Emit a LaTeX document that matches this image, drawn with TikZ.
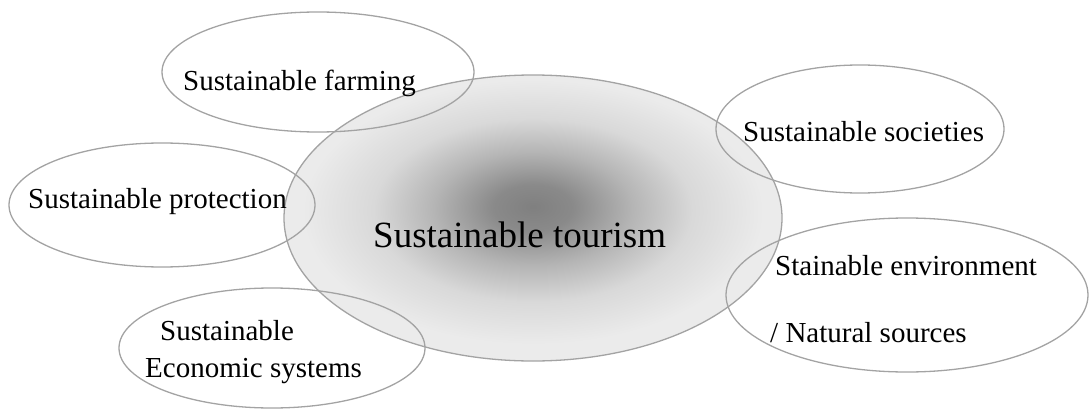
\documentclass[tikz,border=0pt]{standalone}
\usepackage{fontspec}
\setmainfont{Liberation Serif}
\usetikzlibrary{shapes.geometric}
\pgfdeclareradialshading{centreshade}{\pgfpoint{0bp}{2bp}}{%
  color(0bp)=(black!50);
  color(4bp)=(black!46);
  color(10bp)=(black!29);
  color(16bp)=(black!15);
  color(23bp)=(black!8);
  color(50bp)=(black!5)}
\tikzset{
  bubble/.style={ellipse, draw=black!36, line width=1.3pt, inner sep=0pt, outer sep=0pt},
  small/.style={inner sep=0pt, anchor=base west, font=\fontsize{29}{35}\selectfont},
  big/.style={inner sep=0pt, anchor=base west, font=\fontsize{37}{44}\selectfont}
}
\begin{document}
\begin{tikzpicture}[x=1pt, y=-1pt]
\useasboundingbox (0,0) rectangle (1090,412);
% central
\node[bubble, shading=centreshade, minimum width=498pt, minimum height=286pt] (centre) at (533,218) {};
% outer bubbles
\node[bubble, minimum width=312pt, minimum height=120pt] (farm) at (318,72) {};
\node[bubble, minimum width=288pt, minimum height=128pt] (soc) at (860,129) {};
\node[bubble, minimum width=306pt, minimum height=124pt] (prot) at (162,205) {};
\node[bubble, minimum width=362pt, minimum height=154pt] (env) at (907,295) {};
\node[bubble, minimum width=306pt, minimum height=120pt] (econ) at (272,348) {};
% texts
\node[big] (tcentre) at (373,247) {Sustainable tourism};
\node[small] (tfarm) at (183,90) {Sustainable farming};
\node[small] (tsoc) at (743,141) {Sustainable societies};
\node[small] (tprot) at (28,208) {Sustainable protection};
\node[small] (tenv1) at (775,275) {Stainable environment};
\node[small] (tenv2) at (770,342) {/ Natural sources};
\node[small] (tecon1) at (160,340) {Sustainable};
\node[small] (tecon2) at (145,377) {Economic systems};
\end{tikzpicture}
\end{document}
